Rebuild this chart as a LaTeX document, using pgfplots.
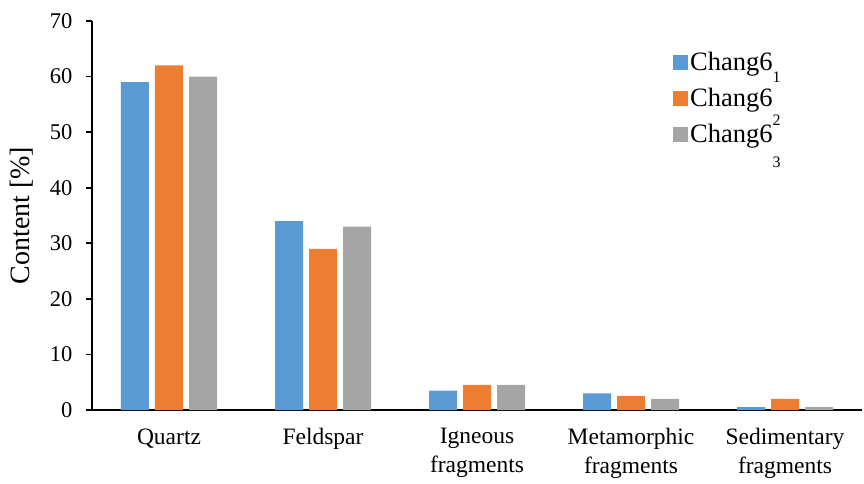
\documentclass[border=0pt]{standalone}
\usepackage{pgfplots}
\pgfplotsset{compat=1.18}
\usepackage{fontspec}
\setmainfont{Liberation Serif}
\definecolor{cblue}{HTML}{5B9BD5}
\definecolor{corange}{HTML}{ED7D31}
\definecolor{cgray}{HTML}{A5A5A5}
\begin{document}
\begin{tikzpicture}
\path[use as bounding box] (-92pt,-73pt) rectangle (772pt,410pt);
\begin{axis}[
  at={(0pt,0pt)}, anchor=south west,
  scale only axis,
  width=770pt, height=389pt,
  xmin=-0.5, xmax=4.5, ymin=0, ymax=70,
  ytick={0,10,...,70},
  xtick={0,1,2,3,4},
  xticklabels={Quartz,Feldspar,Igneous\\fragments,Metamorphic\\fragments,Sedimentary\\fragments},
  xticklabel style={align=center, font=\fontsize{23.5}{28.5}\selectfont, yshift=-9pt},
  yticklabel style={font=\fontsize{22.5}{26}\selectfont, xshift=-10pt},
  /pgf/number format/assume math mode=true,
  axis lines*=left,
  axis line style={line width=1.6pt, black},
  x axis line style={-},
  y axis line style={-},
  tick align=outside,
  major tick length=6pt,
  xtick style={draw=none},
  ytick style={line width=1.6pt, black},
  ylabel={Content [\%]},
  ylabel style={font=\fontsize{28}{30}\selectfont, at={(axis description cs:-0.091,0.5)}, anchor=center},
  ybar=6pt, bar width=28pt,
  legend style={draw=none, fill=none, at={(0.7545,0.925)}, anchor=north west,
    font=\fontsize{26.5}{28}\selectfont, row sep=12pt,
    legend cell align=left, inner sep=0pt,
    nodes={inner sep=2pt}},
  legend image code/.code={\fill[#1] (0pt,-7.5pt) rectangle (15pt,7.5pt);},
]
\addplot[fill=cblue, draw=none] coordinates {(0,59) (1,34) (2,3.5) (3,3) (4,0.5)};
\addplot[fill=corange, draw=none] coordinates {(0,62) (1,29) (2,4.5) (3,2.5) (4,2)};
\addplot[fill=cgray, draw=none] coordinates {(0,60) (1,33) (2,4.5) (3,2) (4,0.5)};
\addlegendentry{Chang6\raisebox{-12pt}[0pt][0pt]{\fontsize{16}{18}\selectfont 1}}
\addlegendentry{Chang6\raisebox{-19pt}[0pt][0pt]{\fontsize{16}{18}\selectfont 2}}
\addlegendentry{Chang6\raisebox{-25pt}[0pt][0pt]{\fontsize{16}{18}\selectfont 3}}
\end{axis}
\end{tikzpicture}
\end{document}
